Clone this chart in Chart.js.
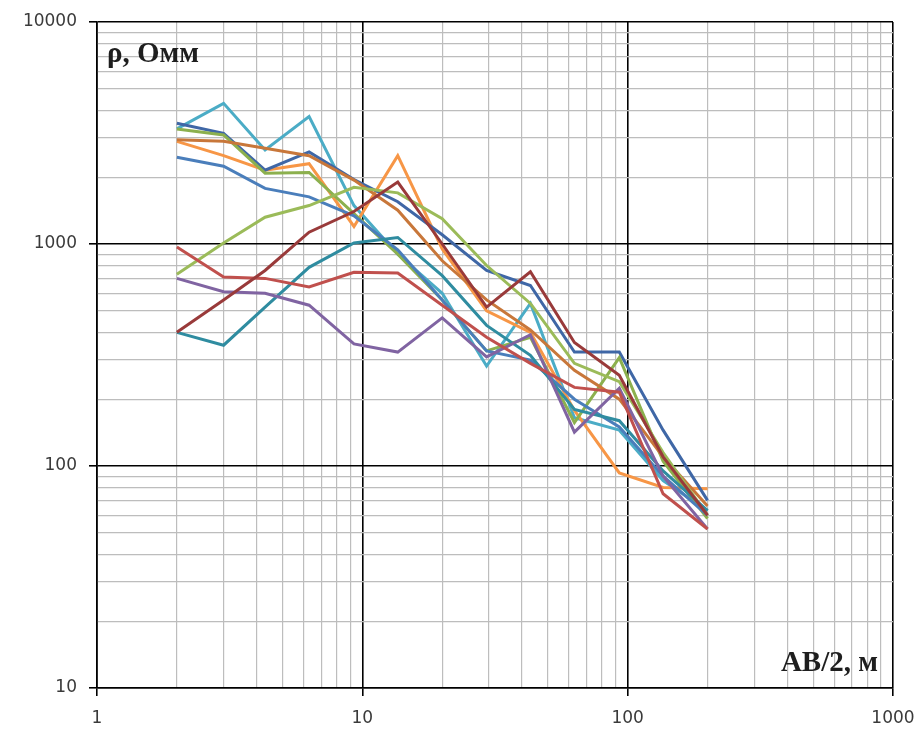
<!DOCTYPE html>
<html>
<head>
<meta charset="utf-8">
<script src="https://cdn.jsdelivr.net/npm/chart.js@4"></script>
<style>
  html, body { margin: 0; padding: 0; background: #fff; }
  #wrap { width: 919px; height: 731px; }
</style>
</head>
<body>
<div id="wrap"><canvas id="vesChart"></canvas></div>
<script>
// AB/2 spacing, m
const ab2 = [2, 3, 4.3, 6.3, 9.3, 13.6, 20, 29.4, 43, 63, 93, 136, 200];

// apparent resistivity curves, Ohm*m
const curveDarkBlue = [3500, 3150, 2150, 2600, 1950, 1550, 1100, 760, 650, 326, 326, 145, 70];
const curveMaroon   = [400, 560, 760, 1130, 1400, 1900, 1000, 520, 750, 360, 256, 110, 60];
const curveRed      = [970, 710, 700, 640, 746, 740, 530, 380, 290, 226, 215, 75, 52];
const curveGreen    = [730, 1010, 1320, 1490, 1800, 1700, 1300, 800, 540, 290, 240, 115, 60];
const curvePurple   = [700, 610, 600, 530, 355, 326, 465, 310, 390, 142, 224, 90, 52];
const curveTeal     = [400, 350, 520, 785, 1010, 1070, 720, 430, 315, 180, 160, 95, 63];
const curveOrange   = [2900, 2500, 2150, 2300, 1200, 2500, 950, 500, 400, 178, 93, 80, 79];
const curveBrown    = [2950, 2900, 2700, 2500, 1940, 1420, 840, 560, 410, 270, 200, 110, 66];
const curveBlue     = [2460, 2240, 1780, 1630, 1340, 940, 560, 330, 300, 200, 150, 90, 60];
const curveAqua     = [3300, 4300, 2650, 3750, 1490, 900, 600, 282, 540, 165, 145, 86, 63];
const curveGreen2   = [3300, 3100, 2085, 2100, 1370, 900, 560, 330, 380, 157, 308, 105, 58];

const xDecades = [1, 10, 100, 1000];
const yDecades = [10, 100, 1000, 10000];

const series = [
  { data: curveMaroon, color: '#993a3a' },
  { data: curveRed, color: '#c0504d' },
  { data: curvePurple, color: '#8064a2' },
  { data: curveTeal, color: '#2f8ca0' },
  { data: curveGreen, color: '#9bbb59' },
  { data: curveBlue, color: '#4a7ebb' },
  { data: curveBrown, color: '#c8773a' },
  { data: curveGreen2, color: '#8cb04e' },
  { data: curveDarkBlue, color: '#3f67a6' },
  { data: curveOrange, color: '#f79646' },
  { data: curveAqua, color: '#4bacc6' },
];

function withMinors(decades) {
  const out = [];
  for (let i = 0; i < decades.length; i++) {
    out.push(decades[i]);
    if (i < decades.length - 1) {
      for (let k = 2; k <= 9; k++) out.push(decades[i] * k);
    }
  }
  return out;
}

function isDecade(v) {
  const l = Math.log10(v);
  return Math.abs(l - Math.round(l)) < 1e-9;
}

const axisTitles = {
  id: 'axisTitles',
  afterDraw(chart) {
    const ctx = chart.ctx;
    const area = chart.chartArea;
    ctx.save();
    ctx.fillStyle = '#1e1e1e';
    ctx.font = 'bold 29px "Liberation Serif", "DejaVu Serif", serif';
    ctx.textBaseline = 'alphabetic';
    ctx.textAlign = 'left';
    ctx.fillText('ρ, Омм', area.left + 10, area.top + 40);
    ctx.textAlign = 'right';
    ctx.fillText('AB/2, м', area.right - 15, area.bottom - 17);
    ctx.restore();
  }
};

const gridOpts = {
  color: (c) => (c.tick && isDecade(c.tick.value) ? '#000' : '#bdbdbd'),
  lineWidth: (c) => (c.tick && isDecade(c.tick.value) ? 1.6 : 1.2),
  tickColor: (c) => (c.tick && isDecade(c.tick.value) ? '#000' : 'rgba(0,0,0,0)'),
  tickLength: 8,
  drawTicks: true,
};

new Chart(document.getElementById('vesChart'), {
  type: 'line',
  data: {
    datasets: series.map((s) => ({
      data: s.data.map((v, i) => ({ x: ab2[i], y: v })),
      borderColor: s.color,
      borderWidth: 3,
      pointRadius: 0,
      tension: 0,
      fill: false,
    })),
  },
  plugins: [axisTitles],
  options: {
    responsive: true,
    maintainAspectRatio: false,
    animation: false,
    layout: { padding: { top: 22, right: 26, left: 0, bottom: 0 } },
    plugins: { legend: { display: false }, tooltip: { enabled: false } },
    scales: {
      x: {
        type: 'logarithmic',
        min: 1,
        max: 1000,
        afterBuildTicks: (axis) => { axis.ticks = withMinors(xDecades).map((v) => ({ value: v })); },
        afterFit: (axis) => {
          axis.height = 43;
          axis.paddingRight = 0;
          axis.paddingLeft = 0;
        },
        grid: gridOpts,
        border: { color: '#000', width: 1.6 },
        ticks: {
          autoSkip: false,
          maxRotation: 0,
          padding: 12,
          color: '#3a3a3a',
          font: { family: 'DejaVu Sans', size: 17 },
          callback: (v) => (isDecade(v) ? String(v) : ''),
        },
      },
      y: {
        type: 'logarithmic',
        min: 10,
        max: 10000,
        afterBuildTicks: (axis) => { axis.ticks = withMinors(yDecades).map((v) => ({ value: v })); },
        afterFit: (axis) => {
          axis.width = 97;
          axis.paddingTop = 0;
          axis.paddingBottom = 0;
        },
        grid: gridOpts,
        border: { color: '#000', width: 1.6 },
        ticks: {
          autoSkip: false,
          padding: 12,
          color: '#3a3a3a',
          font: { family: 'DejaVu Sans', size: 17 },
          callback: (v) => (isDecade(v) ? String(v) : ''),
        },
      },
    },
  },
});
</script>
</body>
</html>
